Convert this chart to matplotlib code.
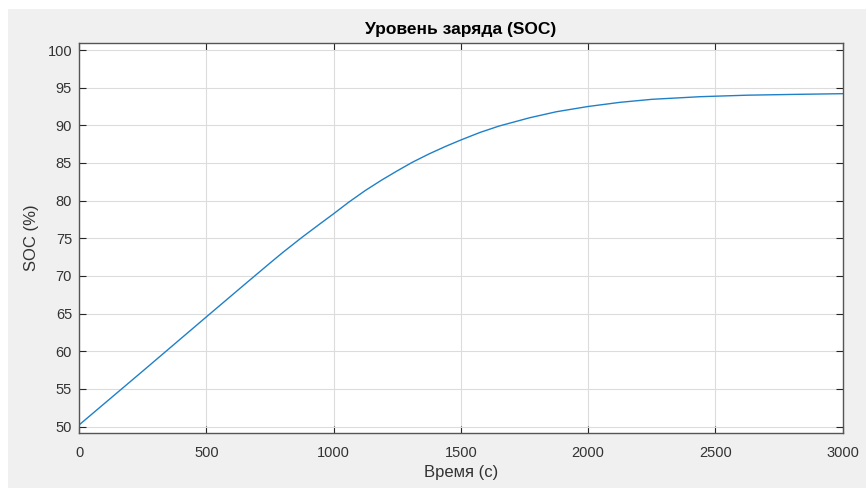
import matplotlib
matplotlib.use("Agg")
import matplotlib.pyplot as plt
from matplotlib.patches import Rectangle

# Data
time_s = [0, 250, 500, 650, 750, 800, 875, 950, 1000, 1060, 1125, 1190, 1250, 1310,
          1375, 1440, 1500, 1575, 1650, 1770, 1875, 2000, 2125, 2250, 2440, 2625,
          2800, 3000]
soc_pct = [50.2, 57.35, 64.55, 68.85, 71.7, 73.1, 75.1, 77.0, 78.25, 79.8, 81.35, 82.75,
           83.95, 85.1, 86.2, 87.2, 88.05, 89.05, 89.9, 91.0, 91.8, 92.5, 93.05, 93.45,
           93.8, 94.0, 94.1, 94.2]
x_ticks = [0, 500, 1000, 1500, 2000, 2500, 3000]
y_ticks = [50, 55, 60, 65, 70, 75, 80, 85, 90, 95, 100]

title = "Уровень заряда (SOC)"
xlabel = "Время (с)"
ylabel = "SOC (%)"

plt.rcParams['font.family'] = ['Liberation Sans', 'DejaVu Sans']

W, H = 868, 488
fig = plt.figure(figsize=(W / 100, H / 100), dpi=100, facecolor='white')
fig.patches.append(Rectangle((8 / W, 0), (866 - 8) / W, (H - 9) / H,
                             transform=fig.transFigure, facecolor='#f0f0f0',
                             edgecolor='none', zorder=-10))

ax = fig.add_axes([79 / W, 1 - 433.3 / H, (842.7 - 79) / W, (433.3 - 42.7) / H])
ax.set_facecolor('white')
ax.plot(time_s, soc_pct, color='#1f80c8', lw=1.0)

ax.set_xlim(0, 3000)
ax.set_ylim(49.1, 100.97)
ax.set_xticks(x_ticks)
ax.set_yticks(y_ticks)
ax.grid(True, color='#dcdcdc', lw=0.8)
ax.set_axisbelow(True)

ax.tick_params(direction='in', length=5, width=0.8, color='#262626',
               labelcolor='#333333', labelsize=10.5, top=True, right=True)
ax.tick_params(axis='x', pad=9)
ax.tick_params(axis='y', pad=5)
for s in ax.spines.values():
    s.set_color('#555555')
    s.set_linewidth(1.0)

ax.set_title(title, fontsize=12.5, fontweight='bold', color='black', pad=6)
ax.set_xlabel(xlabel, fontsize=12, color='#333333', labelpad=4)
ax.set_ylabel(ylabel, fontsize=12, color='#333333', labelpad=6)

fig.savefig('out.png', dpi=100, facecolor=fig.get_facecolor())
